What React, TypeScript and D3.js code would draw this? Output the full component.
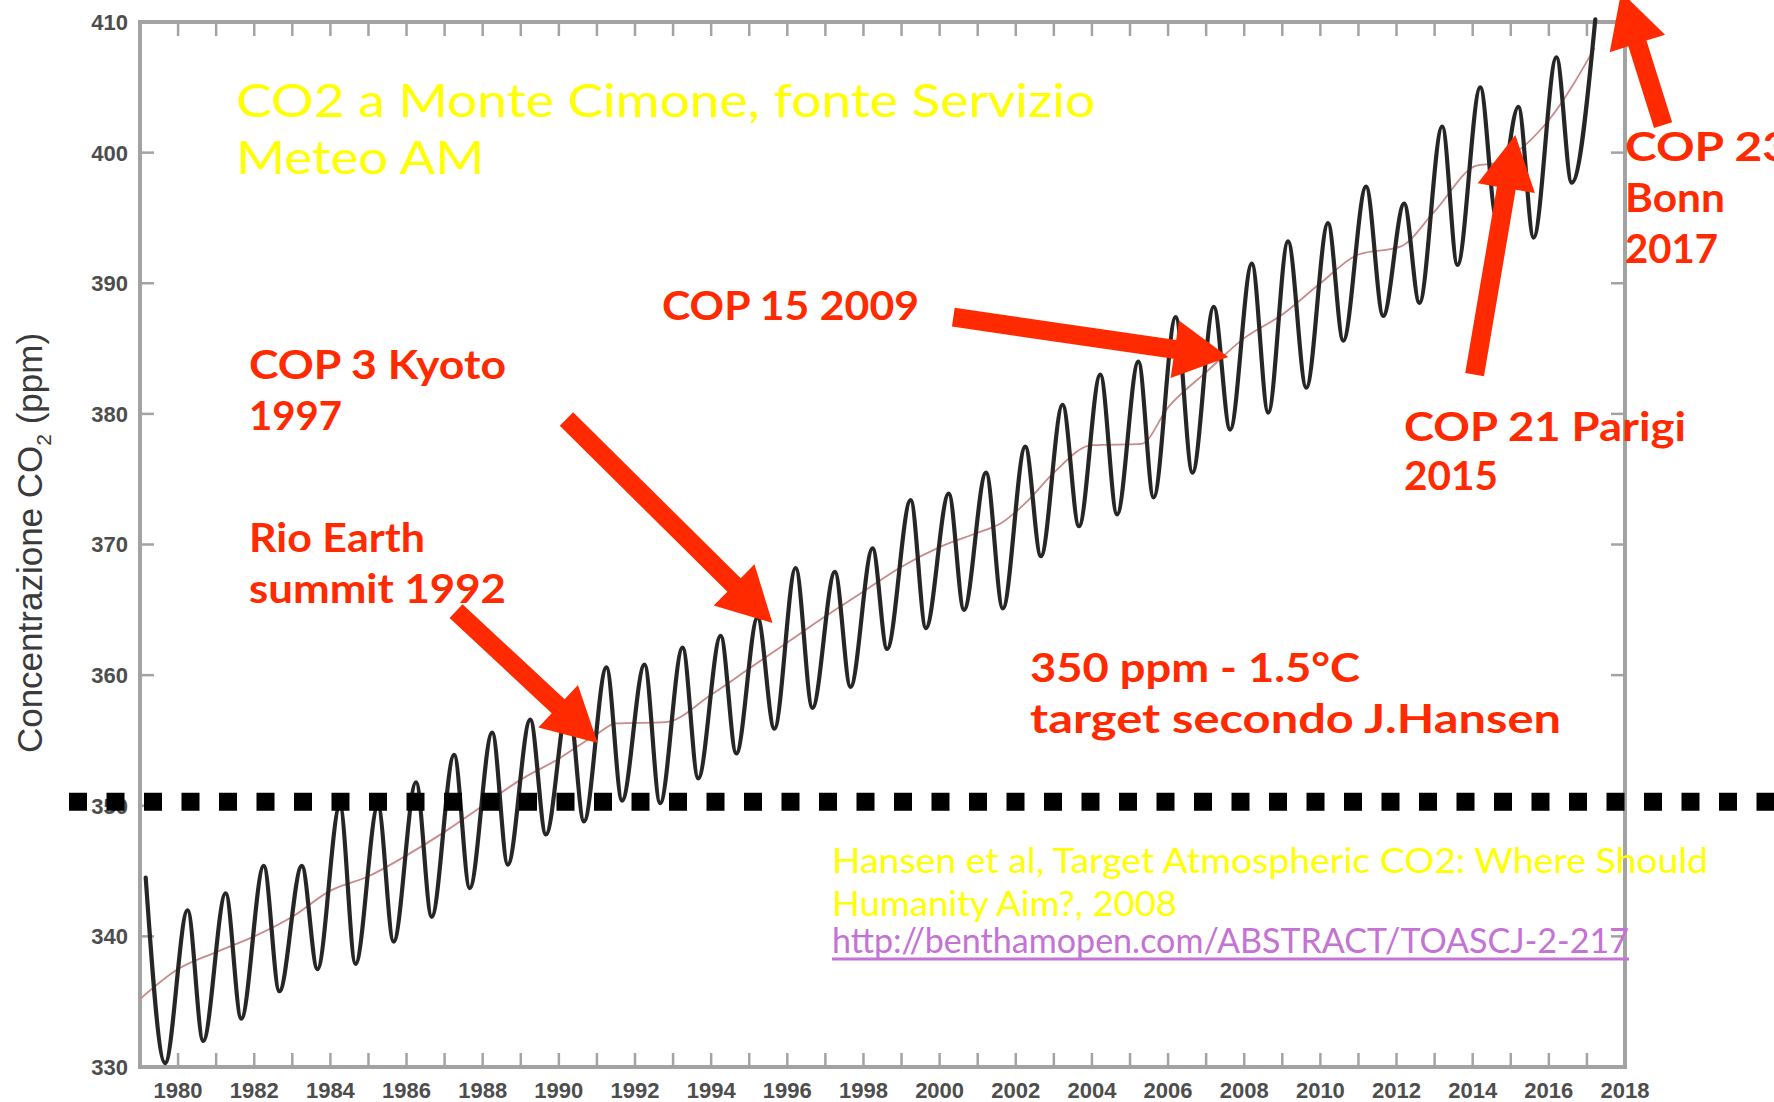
import React, { useEffect } from "react";
import * as d3 from "d3";

const W = 1774;
const H = 1102;

// Monthly CO2 at Monte Cimone: seasonal extremes [decimal year, ppm]
const co2Times = [
  1979.15, 1979.66, 1980.25, 1980.66, 1981.25, 1981.66, 1982.25, 1982.66, 1983.25, 1983.66,
  1984.25, 1984.66, 1985.25, 1985.66, 1986.25, 1986.66, 1987.25, 1987.66, 1988.25, 1988.66,
  1989.25, 1989.66, 1990.25, 1990.66, 1991.25, 1991.66, 1992.25, 1992.66, 1993.25, 1993.66,
  1994.25, 1994.66, 1995.22, 1995.66, 1996.22, 1996.66, 1997.25, 1997.66, 1998.24, 1998.62,
  1999.24, 1999.64, 2000.24, 2000.64, 2001.22, 2001.66, 2002.25, 2002.66, 2003.23, 2003.66,
  2004.22, 2004.66, 2005.22, 2005.62, 2006.2, 2006.64, 2007.2, 2007.63, 2008.2, 2008.63,
  2009.15, 2009.63, 2010.2, 2010.6, 2011.2, 2011.65, 2012.2, 2012.6, 2013.2, 2013.6,
  2014.2, 2014.62, 2015.2, 2015.6, 2016.2, 2016.6, 2017.22,
];
const co2Values = [
  344.5, 330.3, 342.0, 332.0, 343.3, 333.7, 345.4, 335.8, 345.4, 337.5,
  350.0, 337.9, 350.0, 339.6, 351.8, 341.5, 353.9, 343.7, 355.6, 345.5,
  356.6, 347.8, 358.0, 348.8, 360.6, 350.4, 360.8, 350.2, 362.1, 352.1,
  363.0, 354.0, 364.4, 355.9, 368.2, 357.5, 367.9, 359.1, 369.7, 362.0,
  373.4, 363.6, 373.9, 365.0, 375.5, 365.1, 377.5, 369.1, 380.7, 371.4,
  383.0, 372.3, 384.0, 373.6, 387.4, 375.5, 388.2, 378.8, 391.5, 380.1,
  393.2, 382.0, 394.6, 385.6, 397.4, 387.5, 396.1, 388.5, 402.0, 391.4,
  405.0, 395.1, 403.5, 393.5, 407.3, 397.7, 410.2,
];

// Smoothed trend (thin pink line)
const trendTimes = [
  1979.0, 1980.0, 1981.0, 1982.0, 1983.0, 1984.0, 1985.0, 1986.0, 1987.0, 1988.0,
  1989.0, 1990.0, 1991.0, 1991.5, 1992.8, 1994.0, 1995.0, 1996.0, 1997.0, 1998.0,
  1999.0, 2000.0, 2001.0, 2001.6, 2002.3, 2003.0, 2004.0, 2005.3, 2006.0, 2007.0,
  2008.0, 2009.0, 2010.0, 2011.0, 2012.1, 2013.0, 2014.1, 2014.6, 2016.0, 2017.2,
];
const trendValues = [
  335.2, 337.5, 338.8, 340.0, 341.5, 343.5, 344.6, 346.2, 348.0, 350.0,
  352.0, 353.6, 355.5, 356.3, 356.4, 358.5, 360.5, 362.5, 364.5, 366.4,
  368.3, 369.8, 370.9, 371.6, 373.3, 375.5, 377.6, 377.7, 380.5, 383.2,
  385.8, 387.6, 390.0, 392.2, 392.8, 395.5, 399.0, 399.2, 402.5, 408.0,
];

const yTickValues = [330, 340, 350, 360, 370, 380, 390, 400, 410];
const xMajorYears = d3.range(1980, 2019, 2);
const xMinorYears = d3.range(1980, 2018, 1);
const targetPpm = 350;

// Annotation arrows in data units: [year, ppm]
const arrowTails: [number, number][] = [
  [1987.3, 364.9],
  [1990.2, 379.6],
  [2000.36, 387.4],
  [2014.05, 383.0],
  [2019.0, 402.1],
];
const arrowTips: [number, number][] = [
  [1991.02, 354.8],
  [1995.61, 364.0],
  [2007.58, 384.35],
  [2015.12, 401.35],
  [2017.9, 412.3],
];

const RED = "#ff2a00";
const YELLOW = "#ffff00";
const LINK = "#c472d4";
const GOTHIC = "'Century Gothic', 'URW Gothic', Lato, 'DejaVu Sans', sans-serif";
const AXIS_FONT = "'Liberation Sans', Arial, Helvetica, sans-serif";

type Lbl = { t: string; x: number; y: number; w?: number };

const redLabels: Lbl[] = [
  { t: "COP 15 2009", x: 662, y: 320, w: 257 },
  { t: "COP 3 Kyoto", x: 249, y: 379, w: 257 },
  { t: "1997", x: 249, y: 430, w: 93 },
  { t: "Rio Earth", x: 249, y: 552, w: 176 },
  { t: "summit 1992", x: 249, y: 603, w: 257 },
  { t: "350 ppm - 1.5°C", x: 1030, y: 682, w: 330 },
  { t: "target  secondo J.Hansen", x: 1030, y: 733, w: 531 },
  { t: "COP 21 Parigi", x: 1404, y: 441, w: 282 },
  { t: "2015", x: 1404, y: 490, w: 94 },
  { t: "COP  23", x: 1625, y: 161, w: 165 },
  { t: "Bonn", x: 1625, y: 212, w: 100 },
  { t: "2017", x: 1625, y: 263, w: 93 },
];

const yellowLabels: Lbl[] = [
  { t: "CO2 a Monte Cimone, fonte Servizio", x: 236, y: 117, w: 859 },
  { t: "Meteo AM", x: 236, y: 174, w: 248 },
];

const citeLabels: Lbl[] = [
  { t: "Hansen et al, Target Atmospheric CO2: Where Should", x: 832, y: 873, w: 876 },
  { t: "Humanity Aim?, 2008", x: 832, y: 916, w: 345 },
];
const linkLabel: Lbl = { t: "http://benthamopen.com/ABSTRACT/TOASCJ-2-217", x: 832, y: 953, w: 797 };

export default function App() {
  useEffect(() => {
    document.body.style.margin = "0";
    document.body.style.overflow = "hidden";
  }, []);

  const x = d3.scaleLinear().domain([1979, 2018]).range([140, 1625]);
  const y = d3.scaleLinear().domain([330, 410]).range([1067, 22]);
  const left = x(1979);
  const right = x(2018);
  const top = y(410);
  const bottom = y(330);

  const co2Pts: [number, number][] = co2Times.map((t, i) => [t, co2Values[i]]);
  const trendPts: [number, number][] = trendTimes.map((t, i) => [t, trendValues[i]]);
  const line = d3
    .line<[number, number]>()
    .x((d) => x(d[0]))
    .y((d) => y(d[1]))
    .curve(d3.curveMonotoneX);

  const arrowPath = (tail: [number, number], tip: [number, number]) => {
    const x0 = x(tail[0]);
    const y0 = y(tail[1]);
    const x1 = x(tip[0]);
    const y1 = y(tip[1]);
    const dx = x1 - x0;
    const dy = y1 - y0;
    const len = Math.hypot(dx, dy);
    const ux = dx / len;
    const uy = dy / len;
    const nx = -uy;
    const ny = ux;
    const sw = 9.5;
    const hw = 29;
    const hl = 54;
    const bx = x1 - ux * hl;
    const by = y1 - uy * hl;
    const p = d3.path();
    p.moveTo(x0 + nx * sw, y0 + ny * sw);
    p.lineTo(bx + nx * sw, by + ny * sw);
    p.lineTo(bx + nx * hw, by + ny * hw);
    p.lineTo(x1, y1);
    p.lineTo(bx - nx * hw, by - ny * hw);
    p.lineTo(bx - nx * sw, by - ny * sw);
    p.lineTo(x0 - nx * sw, y0 - ny * sw);
    p.closePath();
    return p.toString();
  };

  const axisColor = "#a3a3a3";
  const tickLen = 14;

  return (
    <svg
      width={W}
      height={H}
      viewBox={`0 0 ${W} ${H}`}
      style={{ position: "absolute", left: 0, top: 0, background: "#fff" }}
    >
      <rect x={0} y={0} width={W} height={H} fill="#fff" />

      {/* ticks */}
      <g stroke={axisColor} strokeWidth={2.5}>
        {xMinorYears.map((yr) => (
          <g key={"xt" + yr}>
            <line x1={x(yr)} x2={x(yr)} y1={bottom} y2={bottom - tickLen} />
            <line x1={x(yr)} x2={x(yr)} y1={top} y2={top + tickLen} />
          </g>
        ))}
        {yTickValues.map((v) => (
          <g key={"yt" + v}>
            <line x1={left} x2={left + tickLen} y1={y(v)} y2={y(v)} />
            <line x1={right} x2={right - tickLen} y1={y(v)} y2={y(v)} />
          </g>
        ))}
      </g>

      {/* frame */}
      <rect
        x={left}
        y={top}
        width={right - left}
        height={bottom - top}
        fill="none"
        stroke={axisColor}
        strokeWidth={4}
      />

      {/* tick labels */}
      <g fontFamily={AXIS_FONT} fontSize={22} fontWeight={700} fill="#4d4d4d">
        {yTickValues.map((v) => (
          <text key={"yl" + v} x={left - 12} y={y(v)} dy="0.36em" textAnchor="end">
            {v}
          </text>
        ))}
        {xMajorYears.map((yr) => (
          <text key={"xl" + yr} x={x(yr)} y={1098} textAnchor="middle">
            {yr}
          </text>
        ))}
      </g>

      {/* y axis title */}
      <text
        transform={`translate(42, 543) rotate(-90)`}
        textAnchor="middle"
        fontFamily={AXIS_FONT}
        fontSize={35}
        fill="#3a3a3a"
      >
        Concentrazione CO
        <tspan fontSize={21} dy={9}>2</tspan>
        <tspan dy={-9}> (ppm)</tspan>
      </text>

      {/* trend */}
      <path d={line(trendPts) || ""} fill="none" stroke="#c98a8a" strokeWidth={1.8} />
      {/* seasonal curve */}
      <path
        d={line(co2Pts) || ""}
        fill="none"
        stroke="#262626"
        strokeWidth={4.2}
        strokeLinejoin="round"
        strokeLinecap="round"
      />

      {/* 350 ppm target dotted line */}
      <line
        x1={69}
        x2={W}
        y1={y(targetPpm) - 4}
        y2={y(targetPpm) - 4}
        stroke="#000"
        strokeWidth={18}
        strokeDasharray="18 19.5"
      />

      {/* yellow title */}
      <g fontFamily={GOTHIC} fontSize={47} fill={YELLOW}>
        {yellowLabels.map((l) => (
          <text key={l.t} x={l.x} y={l.y} textLength={l.w} lengthAdjust="spacingAndGlyphs">
            {l.t}
          </text>
        ))}
      </g>

      {/* red annotations */}
      <g fontFamily={GOTHIC} fontSize={40} fontWeight={700} fill={RED}>
        {redLabels.map((l) => (
          <text key={l.t} x={l.x} y={l.y} textLength={l.w} lengthAdjust="spacingAndGlyphs">
            {l.t}
          </text>
        ))}
      </g>

      {/* arrows */}
      <g fill={RED}>
        {arrowTails.map((t, i) => (
          <path key={"ar" + i} d={arrowPath(t, arrowTips[i])} />
        ))}
      </g>

      {/* citation */}
      <g fontFamily={GOTHIC} fontSize={34} fill={YELLOW}>
        {citeLabels.map((l) => (
          <text key={l.t} x={l.x} y={l.y} textLength={l.w} lengthAdjust="spacingAndGlyphs">
            {l.t}
          </text>
        ))}
      </g>
      <text
        x={linkLabel.x}
        y={linkLabel.y}
        fontFamily={GOTHIC}
        fontSize={34}
        fill={LINK}
        textLength={linkLabel.w}
        lengthAdjust="spacingAndGlyphs"
      >
        {linkLabel.t}
      </text>
      <line
        x1={linkLabel.x}
        x2={linkLabel.x + (linkLabel.w || 0)}
        y1={linkLabel.y + 6}
        y2={linkLabel.y + 6}
        stroke={LINK}
        strokeWidth={3}
      />
    </svg>
  );
}
